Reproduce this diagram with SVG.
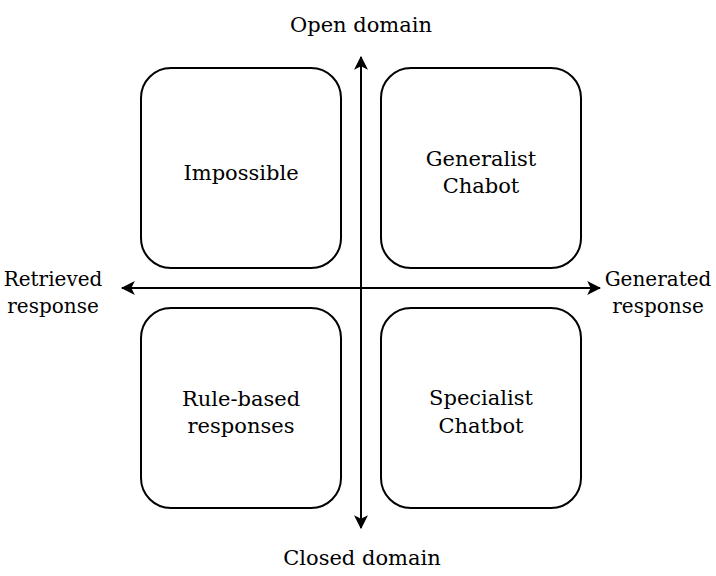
<svg xmlns="http://www.w3.org/2000/svg" width="716" height="576" viewBox="0 0 716 576">
<style>
  .box { fill: #ffffff; stroke: #000000; stroke-width: 2; }
  .axis { fill: none; stroke: #000000; stroke-width: 2; }
  text { font-family: "DejaVu Serif", "Liberation Serif", serif; font-size: 21px; fill: #000000; text-anchor: middle; }
  .side { font-size: 20px; }
</style>
<defs>
  <marker id="arrowBig" viewBox="0 0 12 12" refX="11" refY="6" markerWidth="14" markerHeight="14" markerUnits="userSpaceOnUse" orient="auto-start-reverse">
    <path d="M0,0 L12,6 L0,12 L3,6 Z" fill="#000000"/>
  </marker>
</defs>
<rect width="716" height="576" fill="#ffffff"/>
<g id="connectors">
  <line class="axis" x1="361" y1="57" x2="361" y2="528" marker-start="url(#arrowBig)" marker-end="url(#arrowBig)"/>
  <line class="axis" x1="122" y1="288" x2="600" y2="288" marker-start="url(#arrowBig)" marker-end="url(#arrowBig)"/>
</g>
<g id="impossible">
  <rect class="box" x="141" y="68" width="200" height="200" rx="30" ry="30"/>
  <text x="241" y="180">Impossible</text>
</g>
<g id="generalist">
  <rect class="box" x="381" y="68" width="200" height="200" rx="30" ry="30"/>
  <text x="481" y="166">Generalist</text>
  <text x="481" y="193">Chabot</text>
</g>
<g id="rulebased">
  <rect class="box" x="141" y="308" width="200" height="200" rx="30" ry="30"/>
  <text x="241" y="406">Rule-based</text>
  <text x="241" y="433">responses</text>
</g>
<g id="specialist">
  <rect class="box" x="381" y="308" width="200" height="200" rx="30" ry="30"/>
  <text x="481" y="405">Specialist</text>
  <text x="481" y="433">Chatbot</text>
</g>
<g id="label-open">
  <text x="361" y="32">Open domain</text>
</g>
<g id="label-closed">
  <text x="362" y="565">Closed domain</text>
</g>
<g id="label-retrieved">
  <text class="side" x="53" y="286">Retrieved</text>
  <text class="side" x="53" y="313">response</text>
</g>
<g id="label-generated">
  <text class="side" x="658" y="286">Generated</text>
  <text class="side" x="658" y="313">response</text>
</g>
</svg>
